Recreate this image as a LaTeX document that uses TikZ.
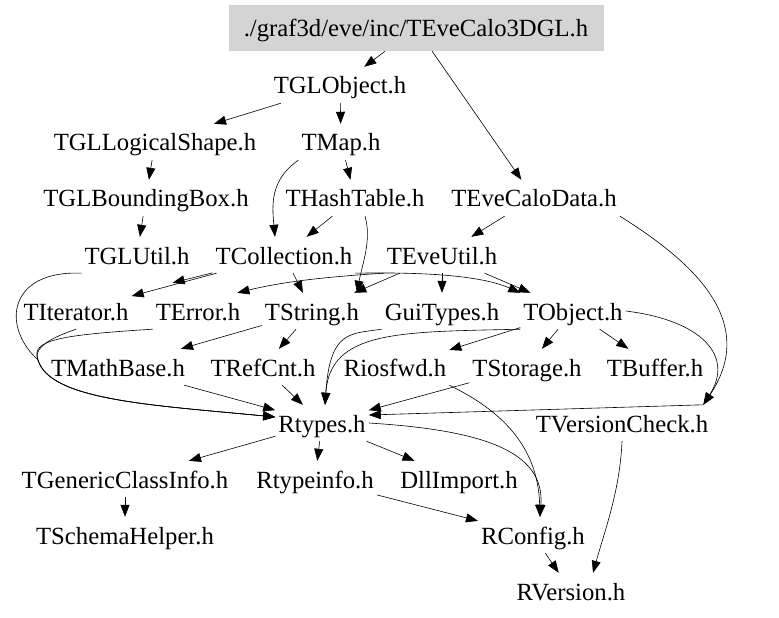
\documentclass[tikz,border=0pt]{standalone}
\usepackage{fontspec}
\setmainfont{Liberation Serif}
\usetikzlibrary{arrows.meta}
\definecolor{hdrgray}{gray}{0.83}
\tikzset{
  file/.style={inner xsep=3bp, minimum height=36bp, text height=23bp, text depth=5bp,
    font=\fontsize{24.8}{29}\selectfont},
  hdr/.style={file, fill=hdrgray, minimum width=375bp, minimum height=46bp},
  edge/.style={line width=0.6bp, -{Triangle[length=12bp,width=9bp]}}
}

\begin{document}
\begin{tikzpicture}[x=1bp,y=-1bp]
				\useasboundingbox (0,0) rectangle (779,618);
				
				\node[hdr] (calo3dgl) at (416,28) {./graf3d/eve/inc/TEveCalo3DGL.h};
				
				\node[file] (globject) at (340,85) {TGLObject.h};
				\node[file] (gllogical) at (155,142) {TGLLogicalShape.h};
				\node[file] (map) at (341,142) {TMap.h};
				\node[file] (glbbox) at (146,198) {TGLBoundingBox.h};
				\node[file] (hashtable) at (355,198) {THashTable.h};
				\node[file] (calodata) at (534,198) {TEveCaloData.h};
				\node[file] (glutil) at (137,255) {TGLUtil.h};
				\node[file] (collection) at (284,255) {TCollection.h};
				\node[file] (eveutil) at (442,255) {TEveUtil.h};
				\node[file] (iterator) at (76,311) {TIterator.h};
				\node[file] (error) at (198,311) {TError.h};
				\node[file] (string) at (312,311) {TString.h};
				\node[file] (guitypes) at (442,311) {GuiTypes.h};
				\node[file] (object) at (573,311) {TObject.h};
				\node[file] (mathbase) at (118,367) {TMathBase.h};
				\node[file] (refcnt) at (263,367) {TRefCnt.h};
				\node[file] (riosfwd) at (395,367) {Riosfwd.h};
				\node[file] (storage) at (527,367) {TStorage.h};
				\node[file] (buffer) at (655,367) {TBuffer.h};
				\node[file] (rtypes) at (322,423) {Rtypes.h};
				\node[file] (versioncheck) at (622,423) {TVersionCheck.h};
				\node[file] (genericinfo) at (125,479) {TGenericClassInfo.h};
				\node[file] (rtypeinfo) at (315,479) {Rtypeinfo.h};
				\node[file] (dllimport) at (459,479) {DllImport.h};
				\node[file] (schemahelper) at (125,535) {TSchemaHelper.h};
				\node[file] (rconfig) at (533,535) {RConfig.h};
				\node[file] (rversion) at (571,591) {RVersion.h};
				
				\draw[edge] (calo3dgl) -- (globject);
				\draw[edge] (calo3dgl) -- (calodata);
				\draw[edge] (globject) -- (gllogical);
				\draw[edge] (globject) -- (map);
				\draw[edge] (gllogical) -- (glbbox);
				\draw[edge] (map) -- (hashtable);
				\draw[edge] (map.south west) .. controls (270,180) and (272,205) .. ([xshift=-9bp]collection.north);
				\draw[edge] (glbbox) -- (glutil);
				\draw[edge] (hashtable) -- (collection);
				\draw[edge] ([xshift=10bp]hashtable.south) .. controls (372,240) and (362,265) .. ([xshift=45bp]string.north);
				\draw[edge] (calodata) -- (eveutil);
				
				\draw[edge] (collection) -- (iterator);
				\draw[edge] (collection) -- ([xshift=20bp,yshift=10bp]error.north west);
				\draw[edge] (collection) -- (string);
				\draw[edge] (collection.south east) .. controls (420,272) and (480,275) .. (object.north west);
				\draw[edge] (eveutil.south west) .. controls (340,276) and (290,280) .. ([xshift=-6bp]error.north east);
				\draw[edge] (eveutil) -- (string);
				\draw[edge] (eveutil) -- (guitypes);
				\draw[edge] (eveutil) -- (object);
				
				\draw[edge] (glutil.south west) .. controls (10,270) and (0,325) .. (38,360) .. controls (50,400) and (150,405) .. ([yshift=6bp]rtypes.west);
				\draw[edge] (error.south west) .. controls (60,335) and (30,340) .. (38,360) .. controls (50,400) and (150,405) .. ([yshift=6bp]rtypes.west);
				\draw[edge] (iterator.south) .. controls (60,335) and (32,345) .. (38,360) .. controls (50,400) and (150,405) .. ([yshift=6bp]rtypes.west);
				
				\draw[edge] (string) -- (mathbase);
				\draw[edge] (string) -- (refcnt);
				\draw[edge] (object.south west) .. controls (400,332) and (330,330) .. ([xshift=3bp]rtypes.north);
				\draw[edge] (guitypes.south west) .. controls (350,334) and (330,330) .. ([xshift=3bp]rtypes.north);
				\draw[edge] (object) -- (riosfwd);
				\draw[edge] (object) -- (storage);
				\draw[edge] (object) -- (buffer);
				\draw[edge] (object.east) .. controls (700,320) and (735,355) .. ([xshift=-8bp]versioncheck.north east);
				\draw[edge] (calodata.south east) .. controls (690,260) and (760,320) .. ([xshift=-8bp]versioncheck.north east);
				
				\draw[edge] (mathbase) -- (rtypes);
				\draw[edge] (refcnt) -- (rtypes);
				\draw[edge] (storage) -- (rtypes);
				\draw[edge] ([xshift=-8bp]versioncheck.north east) -- ([yshift=8bp]rtypes.east);
				\draw[edge] (riosfwd.south east) .. controls (500,410) and (538,445) .. ([xshift=7bp]rconfig.north);
				\draw[edge] (rtypes.east) .. controls (480,430) and (545,450) .. ([xshift=7bp]rconfig.north);
				
				\draw[edge] (rtypes) -- (genericinfo);
				\draw[edge] (rtypes) -- (rtypeinfo);
				\draw[edge] (rtypes) -- (dllimport);
				\draw[edge] (rtypeinfo) -- (rconfig);
				\draw[edge] (genericinfo) -- (schemahelper);
				\draw[edge] (rconfig) -- (rversion);
				\draw[edge] (versioncheck.south) .. controls (620,490) and (605,530) .. ([xshift=22bp]rversion.north);
			\end{tikzpicture}
\end{document}
